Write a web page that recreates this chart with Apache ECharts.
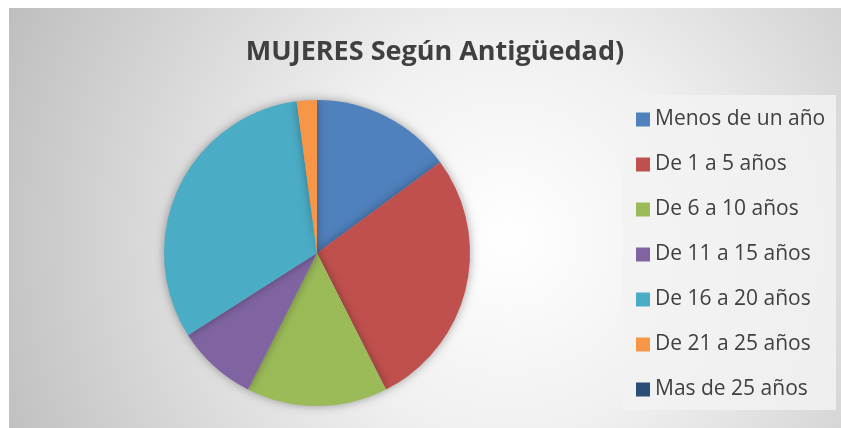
<!DOCTYPE html>
<html>
<head>
<meta charset="utf-8">
<script src="https://cdn.jsdelivr.net/npm/echarts@6/dist/echarts.min.js"></script>
<style>
  html, body { margin: 0; padding: 0; background: #fff; }
  #chart { width: 841px; height: 428px; }
</style>
</head>
<body>
<div id="chart"></div>
<script>
// categorias y valores
var categorias = ['Menos de un año', 'De 1 a 5 años', 'De 6 a 10 años', 'De 11 a 15 años', 'De 16 a 20 años', 'De 21 a 25 años', 'Mas de 25 años'];
var valores = [7, 13, 7, 4, 15, 1, 0];
var colores = ['#4F81BD', '#C0504D', '#9BBB59', '#8064A2', '#4BACC6', '#F79646', '#2C4D75'];

var chart = echarts.init(document.getElementById('chart'));

var datos = [];
for (var i = 0; i < categorias.length; i++) {
    datos.push({ name: categorias[i], value: valores[i] });
}

var option = {
    backgroundColor: '#ffffff',
    color: colores,
    animation: false,
    graphic: [
        {
            type: 'rect', z: -10, silent: true,
            shape: { x: 9, y: 8, width: 832, height: 420 },
            style: {
                fill: new echarts.graphic.RadialGradient(0.6, 0.55, 1.35, [
                    { offset: 0, color: '#ffffff' },
                    { offset: 0.35, color: '#f0f0f0' },
                    { offset: 1, color: '#bcbcbc' }
                ])
            }
        },
        {
            type: 'rect', z: -9, silent: true,
            shape: { x: 623, y: 95, width: 213, height: 315 },
            style: { fill: 'rgba(242,242,242,0.85)' }
        }
    ],
    title: {
        text: 'MUJERES Según Antigüedad)',
        left: 430,
        textAlign: 'center',
        top: 34,
        textStyle: {
            fontFamily: 'Open Sans',
            fontWeight: 'bold',
            fontSize: 27,
            color: '#404040'
        }
    },
    legend: {
        orient: 'vertical',
        left: 631,
        top: 104,
        itemWidth: 14,
        itemHeight: 14,
        itemGap: 24,
        icon: 'rect',
        textStyle: {
            fontFamily: 'Open Sans',
            fontSize: 21,
            color: '#404040'
        },
        data: categorias
    },
    series: [{
        type: 'pie',
        center: [317, 253],
        radius: 153,
        startAngle: 90,
        clockwise: true,
        label: { show: false },
        labelLine: { show: false },
        emphasis: { disabled: true },
        itemStyle: {
            shadowBlur: 10,
            shadowColor: 'rgba(0,0,0,0.35)'
        },
        data: datos
    }]
};

chart.setOption(option);
</script>
</body>
</html>
